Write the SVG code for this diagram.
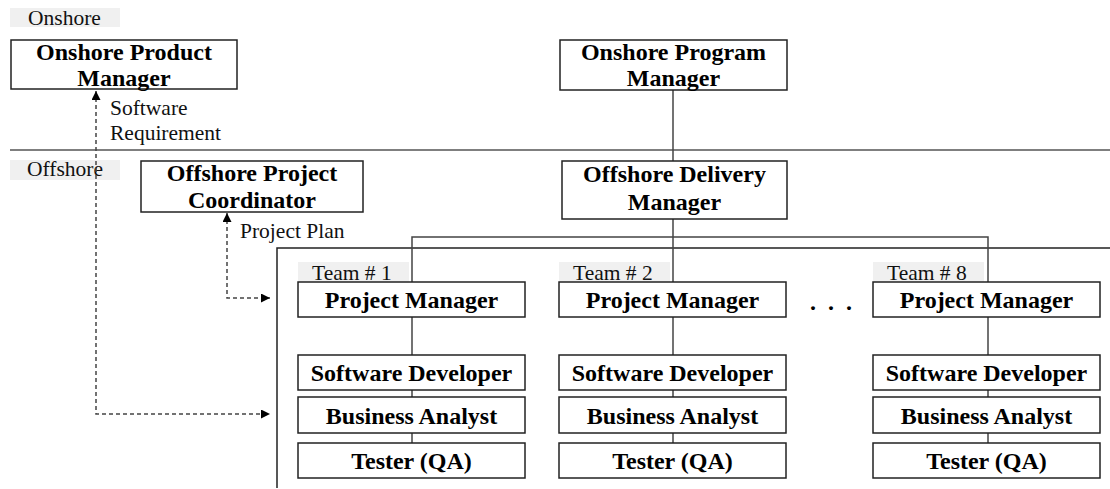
<svg xmlns="http://www.w3.org/2000/svg" width="1110" height="489" viewBox="0 0 1110 489">
<defs>
<style>
.box{fill:#fff;stroke:#222;stroke-width:1.5}
.lbl{fill:#f0f0f0;stroke:none}
.b{font-family:"Liberation Serif",serif;font-weight:bold;font-size:24px;fill:#000;text-anchor:middle}
.r{font-family:"Liberation Serif",serif;font-size:21.5px;fill:#111}
.ln{fill:none;stroke:#444;stroke-width:1.5}
.dash{fill:none;stroke:#444;stroke-width:1.5;stroke-dasharray:4,3}
</style>
<marker id="ah" viewBox="0 0 10 10" refX="10" refY="5" markerWidth="9" markerHeight="9" markerUnits="userSpaceOnUse" orient="auto-start-reverse">
<path d="M0,0 L10,5 L0,10 Z" fill="#000"/>
</marker>
</defs>
<g id="zones">
<rect class="lbl" x="10" y="8" width="110" height="19"/>
<text class="r" x="28" y="25">Onshore</text>
<line x1="10" y1="150" x2="1110" y2="150" stroke="#555" stroke-width="1.5"/>
<rect class="lbl" x="10" y="160" width="110" height="20"/>
<text class="r" x="27" y="176">Offshore</text>
<path d="M1110,248 H277 V488" fill="none" stroke="#222" stroke-width="1.5"/>
</g>
<g id="connectors">
<line class="ln" x1="673" y1="90" x2="673" y2="237"/>
<path class="ln" d="M412,282 V237 H988 V282"/>
<line class="ln" x1="673" y1="237" x2="673" y2="282"/>
<line class="ln" x1="412" y1="317" x2="412" y2="443"/>
<line class="ln" x1="673" y1="317" x2="673" y2="443"/>
<line class="ln" x1="988" y1="317" x2="988" y2="443"/>
<path class="dash" d="M96,91 V414 H270" marker-start="url(#ah)" marker-end="url(#ah)"/>
<path class="dash" d="M227,213 V298 H270" marker-start="url(#ah)" marker-end="url(#ah)"/>
<text class="r" x="110" y="115">Software</text>
<text class="r" x="110" y="140">Requirement</text>
<text class="r" x="240" y="238">Project Plan</text>
</g>
<g id="onshore-product-manager">
<rect class="box" x="11" y="40" width="226" height="49"/>
<text class="b" x="124" y="60">Onshore Product</text>
<text class="b" x="124" y="86">Manager</text>
</g>
<g id="onshore-program-manager">
<rect class="box" x="560" y="40" width="227" height="50"/>
<text class="b" x="673.5" y="60">Onshore Program</text>
<text class="b" x="673.5" y="86">Manager</text>
</g>
<g id="offshore-project-coordinator">
<rect class="box" x="141" y="161" width="222" height="51"/>
<text class="b" x="252" y="181">Offshore Project</text>
<text class="b" x="252" y="208">Coordinator</text>
</g>
<g id="offshore-delivery-manager">
<rect class="box" x="562" y="161" width="225" height="58"/>
<text class="b" x="674.5" y="182">Offshore Delivery</text>
<text class="b" x="674.5" y="210">Manager</text>
</g>
<g id="team1">
<rect class="lbl" x="298" y="262" width="111" height="20"/>
<text class="r" x="312" y="280">Team # 1</text>
<rect class="box" x="298" y="282" width="227" height="35"/>
<text class="b" x="411.5" y="308">Project Manager</text>
<rect class="box" x="298" y="355" width="227" height="35"/>
<text class="b" x="411.5" y="381">Software Developer</text>
<rect class="box" x="298" y="397" width="227" height="36"/>
<text class="b" x="411.5" y="424">Business Analyst</text>
<rect class="box" x="298" y="443" width="227" height="35"/>
<text class="b" x="411.5" y="469">Tester (QA)</text>
</g>
<g id="team2">
<rect class="lbl" x="559" y="262" width="111" height="20"/>
<text class="r" x="573" y="280">Team # 2</text>
<rect class="box" x="559" y="282" width="227" height="35"/>
<text class="b" x="672.5" y="308">Project Manager</text>
<rect class="box" x="559" y="355" width="227" height="35"/>
<text class="b" x="672.5" y="381">Software Developer</text>
<rect class="box" x="559" y="397" width="227" height="36"/>
<text class="b" x="672.5" y="424">Business Analyst</text>
<rect class="box" x="559" y="443" width="227" height="35"/>
<text class="b" x="672.5" y="469">Tester (QA)</text>
</g>
<g id="ellipsis">
<text class="b" x="810" y="310" style="text-anchor:start;letter-spacing:3px">. . .</text>
</g>
<g id="team8">
<rect class="lbl" x="873" y="262" width="111" height="20"/>
<text class="r" x="887" y="280">Team # 8</text>
<rect class="box" x="873" y="282" width="227" height="35"/>
<text class="b" x="986.5" y="308">Project Manager</text>
<rect class="box" x="873" y="355" width="227" height="35"/>
<text class="b" x="986.5" y="381">Software Developer</text>
<rect class="box" x="873" y="397" width="227" height="36"/>
<text class="b" x="986.5" y="424">Business Analyst</text>
<rect class="box" x="873" y="443" width="227" height="35"/>
<text class="b" x="986.5" y="469">Tester (QA)</text>
</g>
</svg>
